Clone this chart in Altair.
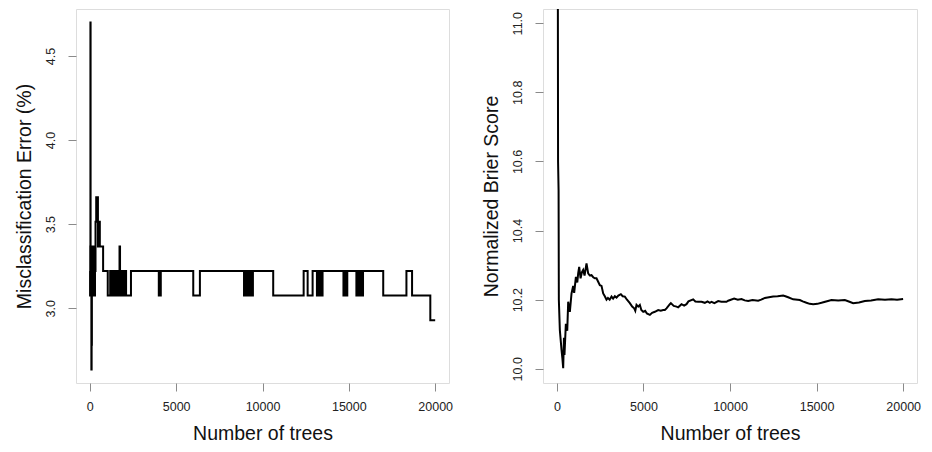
import altair as alt
import pandas as pd

# ---------------- data ----------------
A, B, C, D, E, F, G, H, S = 2.635, 2.782, 2.928, 3.075, 3.221, 3.367, 3.514, 3.660, 4.700

mis_trees = [1, 15, 25, 35, 45, 60, 75, 90, 105, 120, 140, 160, 180, 200, 220, 240,
             260, 280, 300, 330, 370, 400, 430, 470, 500, 530, 560, 580, 770,
             1038, 1180, 1230, 1330, 1380, 1470, 1520, 1600, 1650, 1720, 1750,
             1806, 1880, 1930, 2010, 2100, 2383,
             3995, 4030, 4060, 4110, 5990, 6375,
             8930, 8975, 9010, 9060, 9090, 9140, 9180, 9230, 9270, 9330, 9370, 9445,
             10620, 12383, 12614, 12902, 13152, 13200, 13240, 13290, 13330, 13380,
             13420, 13478, 14688, 14730, 14770, 14820, 14860, 14910, 14957,
             15437, 15480, 15520, 15570, 15610, 15660, 15700, 15750, 15780, 15821,
             16991, 18335, 18661, 19718, 20000]
mis_err = [E, D, F, S, D, E, D, A, B, D, E, F, D, E, D, E,
           F, D, E, G, H, G, H, F, G, F, G, F, E,
           D, E, D, E, D, E, D, E, D, F, E,
           D, E, D, E, D, E,
           D, E, D, E, D, E,
           D, E, D, E, D, E, D, E, D, E, D, E,
           D, E, D, E, D, E, D, E, D, E,
           D, E, D, E, D, E, D, E, E,
           D, E, D, E, D, E, D, E, D, E,
           D, E, D, C, C]

brier_trees = [1, 40, 70, 100, 115, 173, 270, 320, 366, 410, 440, 520, 600, 655, 751,
               847, 943, 1000, 1100, 1180, 1232, 1290, 1370, 1450, 1520, 1600, 1713,
               1809, 1900, 2002, 2100, 2195, 2290, 2387, 2483, 2580, 2676, 2770, 2868,
               2950, 3050, 3157, 3250, 3350, 3446, 3550, 3696, 3800, 3927, 4050, 4216,
               4350, 4466, 4530, 4601, 4700, 4793, 4880, 4986, 5100, 5200, 5371, 5500,
               5660, 5852, 6000, 6141, 6237, 6333, 6526, 6584, 6750, 6911, 7007, 7200,
               7350, 7488, 7600, 7874, 8000, 8162, 8355, 8547, 8700, 8836, 8932, 9100,
               9317, 9500, 9798, 9894, 10050, 10240, 10450, 10665, 10850, 11050, 11300,
               11628, 11800, 12012, 12250, 12493, 12750, 13070, 13200, 13359, 13648,
               14033, 14200, 14418, 14600, 14803, 15050, 15284, 15550, 15862, 16250,
               16632, 16900, 17113, 17450, 17787, 18150, 18556, 18950, 19325, 19650, 19998]
brier_score = [13.0, 11.8, 10.6, 10.516, 10.2, 10.112, 10.055, 10.03, 10.002, 10.09, 10.04,
               10.13, 10.11, 10.194, 10.165, 10.218, 10.24, 10.22, 10.266, 10.25, 10.276,
               10.295, 10.262, 10.28, 10.286, 10.27, 10.305, 10.276, 10.27, 10.271, 10.265,
               10.262, 10.262, 10.252, 10.242, 10.24, 10.218, 10.21, 10.2, 10.205, 10.2,
               10.209, 10.203, 10.21, 10.206, 10.212, 10.216, 10.21, 10.209, 10.2, 10.19,
               10.18, 10.175, 10.168, 10.185, 10.18, 10.185, 10.17, 10.165, 10.168, 10.16,
               10.156, 10.162, 10.165, 10.17, 10.168, 10.17, 10.17, 10.175, 10.187, 10.19,
               10.182, 10.18, 10.178, 10.187, 10.183, 10.187, 10.195, 10.201, 10.195, 10.194,
               10.194, 10.191, 10.195, 10.191, 10.194, 10.19, 10.196, 10.194, 10.194, 10.197,
               10.2, 10.203, 10.2, 10.202, 10.198, 10.196, 10.199, 10.197, 10.2, 10.205,
               10.207, 10.209, 10.21, 10.212, 10.21, 10.207, 10.201, 10.199, 10.195, 10.191,
               10.188, 10.187, 10.188, 10.191, 10.195, 10.199, 10.198, 10.199, 10.194, 10.19,
               10.192, 10.196, 10.198, 10.201, 10.2, 10.201, 10.2, 10.202]

x_ticks = [0, 5000, 10000, 15000, 20000]
mis_ticks = [3.0, 3.5, 4.0, 4.5]
brier_ticks = [10.0, 10.2, 10.4, 10.6, 10.8, 11.0]

mis_df = pd.DataFrame({"trees": mis_trees, "err": mis_err})
brier_df = pd.DataFrame({"trees": brier_trees, "score": brier_score})

FONT = "Liberation Sans"
GRAY = "#8a8a8a"

def x_axis():
    return alt.Axis(values=x_ticks, format="d", title="Number of trees", grid=False,
                    domain=False, tickSize=8, tickColor=GRAY, tickWidth=1,
                    labelFontSize=12.5, labelColor="#222", labelPadding=9,
                    labelFlush=False, labelOverlap=False,
                    titleFontSize=19.5, titleFontWeight="normal", titleColor="#111",
                    titlePadding=12)

def y_axis(vals, title):
    return alt.Axis(values=vals, format=".1f", title=title, grid=False,
                    domain=False, tickSize=8, tickColor=GRAY, tickWidth=1,
                    labelFontSize=12.5, labelColor="#222", labelAngle=270,
                    labelAlign="center", labelBaseline="bottom", labelPadding=11,
                    labelOverlap=False,
                    titleFontSize=19.5, titleFontWeight="normal", titleColor="#111",
                    titlePadding=10)

xscale = alt.Scale(domain=[-800, 20800], nice=False, zero=False)

left = alt.Chart(mis_df).mark_line(interpolate="step-after", color="black",
                                   strokeWidth=2, clip=True).encode(
    x=alt.X("trees:Q", scale=xscale, axis=x_axis()),
    y=alt.Y("err:Q", scale=alt.Scale(domain=[2.555, 4.78], nice=False, zero=False),
            axis=y_axis(mis_ticks, "Misclassification Error (%)")),
).properties(width=373, height=374)

right = alt.Chart(brier_df).mark_line(color="black", strokeWidth=2, clip=True).encode(
    x=alt.X("trees:Q", scale=xscale, axis=x_axis()),
    y=alt.Y("score:Q", scale=alt.Scale(domain=[9.959, 11.041], nice=False, zero=False),
            axis=y_axis(brier_ticks, "Normalized Brier Score")),
).properties(width=374, height=374)

chart = alt.hconcat(left, right, spacing=26).properties(
    padding={"left": 13, "top": 8, "right": 0, "bottom": 0},
    background="white",
).configure_view(stroke=GRAY, strokeWidth=1).configure(font=FONT)

chart.save("out.html", embed_options={"renderer": "svg", "actions": False})
